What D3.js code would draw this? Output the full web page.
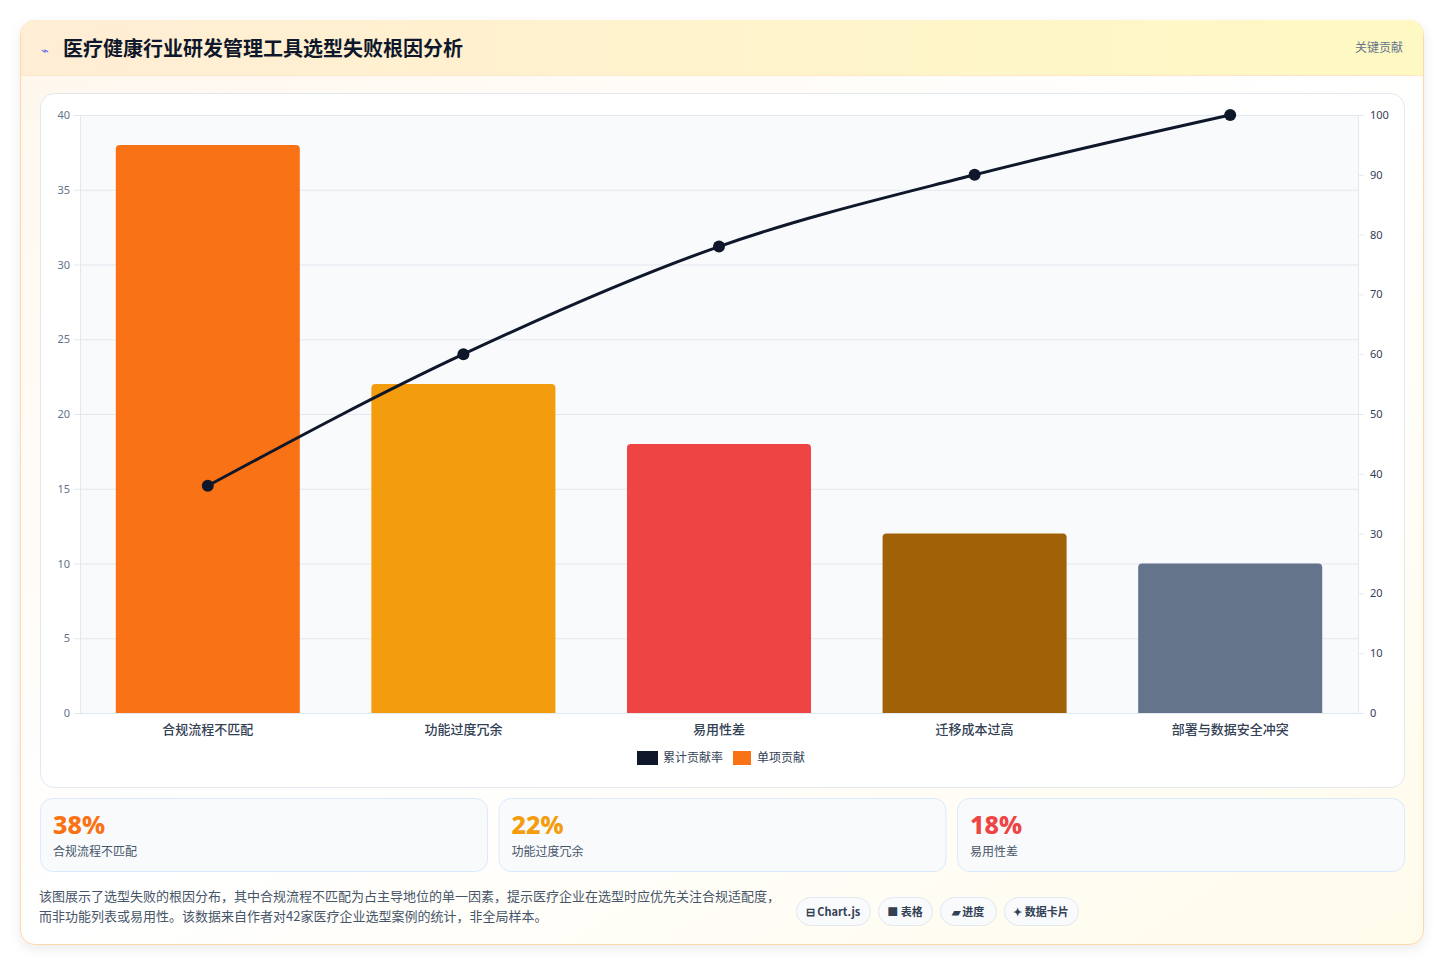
<!DOCTYPE html>
<html><head><meta charset="utf-8">
<script src="https://cdn.jsdelivr.net/npm/d3@7"></script>
<style>
body{margin:0;background:#fff;font-family:"Noto Sans CJK SC","Noto Sans",sans-serif;}
svg{display:block}
</style></head><body>
<svg id="c" width="1444" height="966"></svg>
<script>
const categories=["合规流程不匹配","功能过度冗余","易用性差","迁移成本过高","部署与数据安全冲突"];
const barValues=[38,22,18,12,10];
const cumValues=[38,60,78,90,100];
const barColors=["#f97316","#f39c0e","#ef4444","#a16207","#64748b"];
const leftTicks=[0,5,10,15,20,25,30,35,40];
const rightTicks=[0,10,20,30,40,50,60,70,80,90,100];
const kpis=[{v:"38%",l:"合规流程不匹配",c:"#f97316"},{v:"22%",l:"功能过度冗余",c:"#f39c0e"},{v:"18%",l:"易用性差",c:"#ef4444"}];
const chips=["⊟ Chart.js","■ 表格","▰ 进度","✦ 数据卡片"];

const svg=d3.select("#c");
const defs=svg.append("defs");
const g1=defs.append("linearGradient").attr("id","hg");
g1.append("stop").attr("offset","0").attr("stop-color","#ffedd5");
g1.append("stop").attr("offset","1").attr("stop-color","#fef9c3");
const g2=defs.append("linearGradient").attr("id","bg").attr("x1",0).attr("y1",0).attr("x2",1).attr("y2",1);
g2.append("stop").attr("offset","0").attr("stop-color","#fff7ed");
g2.append("stop").attr("offset","0.5").attr("stop-color","#ffffff");
g2.append("stop").attr("offset","1").attr("stop-color","#fffbeb");
const f=defs.append("filter").attr("id","sh").attr("x",-0.1).attr("y",-0.1).attr("width",1.2).attr("height",1.2);
f.append("feDropShadow").attr("dx",0).attr("dy",4).attr("stdDeviation",6).attr("flood-color","#000").attr("flood-opacity",0.08);

svg.append("rect").attr("x",20.5).attr("y",20.5).attr("width",1403).attr("height",924).attr("rx",14).attr("fill","url(#bg)").attr("stroke","#fed7aa").attr("filter","url(#sh)");
svg.append("path").attr("d","M21,75 V34 a14,14 0 0 1 14,-14 H1409 a14,14 0 0 1 14,14 V75 Z").attr("fill","url(#hg)");
svg.append("line").attr("x1",21).attr("x2",1423).attr("y1",75.5).attr("y2",75.5).attr("stroke","#fde7c7");
svg.append("text").attr("x",41).attr("y",55).attr("fill","#6366f1").attr("font-size",13).text("⌁");
svg.append("text").attr("x",63).attr("y",56).attr("font-size",20).attr("font-weight",700).attr("fill","#0f172a").text("医疗健康行业研发管理工具选型失败根因分析");
svg.append("text").attr("x",1403).attr("y",52).attr("text-anchor","end").attr("font-size",12).attr("fill","#64748b").text("关键贡献");

svg.append("rect").attr("x",40.5).attr("y",93.5).attr("width",1364).attr("height",694).attr("rx",14).attr("fill","#fff").attr("stroke","#e2e8f0");

const x=d3.scaleBand().domain(categories).range([80,1358]).paddingInner(0.28).paddingOuter(0.14);
const y=d3.scaleLinear().domain([0,40]).range([713,115]);
const y2=d3.scaleLinear().domain([0,100]).range([713,115]);
svg.append("rect").attr("x",80).attr("y",115).attr("width",1278).attr("height",598).attr("fill","#f8fafc");
const gl=svg.append("g").attr("transform","translate(80,0)").call(d3.axisLeft(y).tickValues(leftTicks).tickSize(6).tickPadding(4));
gl.select(".domain").attr("stroke","#e2e8f0");
gl.selectAll("line").attr("stroke","#e2e8f0");
gl.selectAll("text").attr("fill","#64748b").attr("font-size",11).attr("font-family","Noto Sans");
svg.append("g").selectAll("line").data(leftTicks).join("line").attr("x1",80).attr("x2",1358).attr("y1",d=>y(d)+0.5).attr("y2",d=>y(d)+0.5).attr("stroke","#e2e8f0");
const gr=svg.append("g").attr("transform","translate(1358,0)").call(d3.axisRight(y2).tickValues(rightTicks).tickSize(6).tickPadding(6));
gr.select(".domain").attr("stroke","#e2e8f0");
gr.selectAll("line").attr("stroke","#e2e8f0");
gr.selectAll("text").attr("fill","#334155").attr("font-size",11).attr("font-family","Noto Sans");

svg.append("g").selectAll("path").data(categories).join("path").attr("fill",(d,i)=>barColors[i]).attr("d",(d,i)=>{
 const x0=x(d),w=x.bandwidth(),y0=y(barValues[i]),r=4;
 return `M${x0},713 V${y0+r} Q${x0},${y0} ${x0+r},${y0} H${x0+w-r} Q${x0+w},${y0} ${x0+w},${y0+r} V713 Z`;});
const xa=svg.append("g").attr("transform","translate(0,713)").call(d3.axisBottom(x).tickSize(0).tickPadding(12));
xa.select(".domain").attr("stroke","#e2e8f0");
xa.selectAll("text").attr("fill","#334155").attr("font-size",13).attr("font-family","Noto Sans CJK SC").attr("font-weight",500);

const pts=categories.map((c,i)=>[x(c)+x.bandwidth()/2,y2(cumValues[i])]);
svg.append("path").attr("d",d3.line().curve(d3.curveMonotoneX)(pts)).attr("fill","none").attr("stroke","#0f172a").attr("stroke-width",3);
svg.append("g").selectAll("circle").data(pts).join("circle").attr("cx",d=>d[0]).attr("cy",d=>d[1]).attr("r",6).attr("fill","#0f172a");

const lg=svg.append("g").attr("font-size",12).attr("fill","#334155");
lg.append("rect").attr("x",637).attr("y",751).attr("width",21).attr("height",14).attr("fill","#0f172a");
lg.append("text").attr("x",663).attr("y",762).text("累计贡献率");
lg.append("rect").attr("x",733).attr("y",751).attr("width",18).attr("height",14).attr("fill","#f97316");
lg.append("text").attr("x",757).attr("y",762).text("单项贡献");

kpis.forEach((k,i)=>{
 const cx=40+i*458.5;
 svg.append("rect").attr("x",cx+0.5).attr("y",798.5).attr("width",447).attr("height",73).attr("rx",12).attr("fill","#f8fafc").attr("stroke","#dbeafe");
 svg.append("text").attr("x",cx+13).attr("y",834).attr("font-size",25).attr("font-weight",800).attr("fill",k.c).attr("font-family","Noto Sans").text(k.v);
 svg.append("text").attr("x",cx+13).attr("y",856).attr("font-size",12).attr("fill","#475569").text(k.l);
});
svg.append("text").attr("x",39).attr("y",901).attr("font-size",13).attr("fill","#475569").text("该图展示了选型失败的根因分布，其中合规流程不匹配为占主导地位的单一因素，提示医疗企业在选型时应优先关注合规适配度，");
svg.append("text").attr("x",39).attr("y",921).attr("font-size",13).attr("fill","#475569").text("而非功能列表或易用性。该数据来自作者对42家医疗企业选型案例的统计，非全局样本。");
let cx=796;
const ws=[74,54,56,74];
chips.forEach((c,i)=>{
 svg.append("rect").attr("x",cx+0.5).attr("y",897.5).attr("width",ws[i]).attr("height",28).attr("rx",14).attr("fill","#f8fafc").attr("stroke","#e2e8f0");
 svg.append("text").attr("x",cx+ws[i]/2).attr("y",916).attr("text-anchor","middle").attr("font-size",11).attr("font-weight",600).attr("fill","#334155").text(c);
 cx+=ws[i]+8;
});
</script></body></html>
